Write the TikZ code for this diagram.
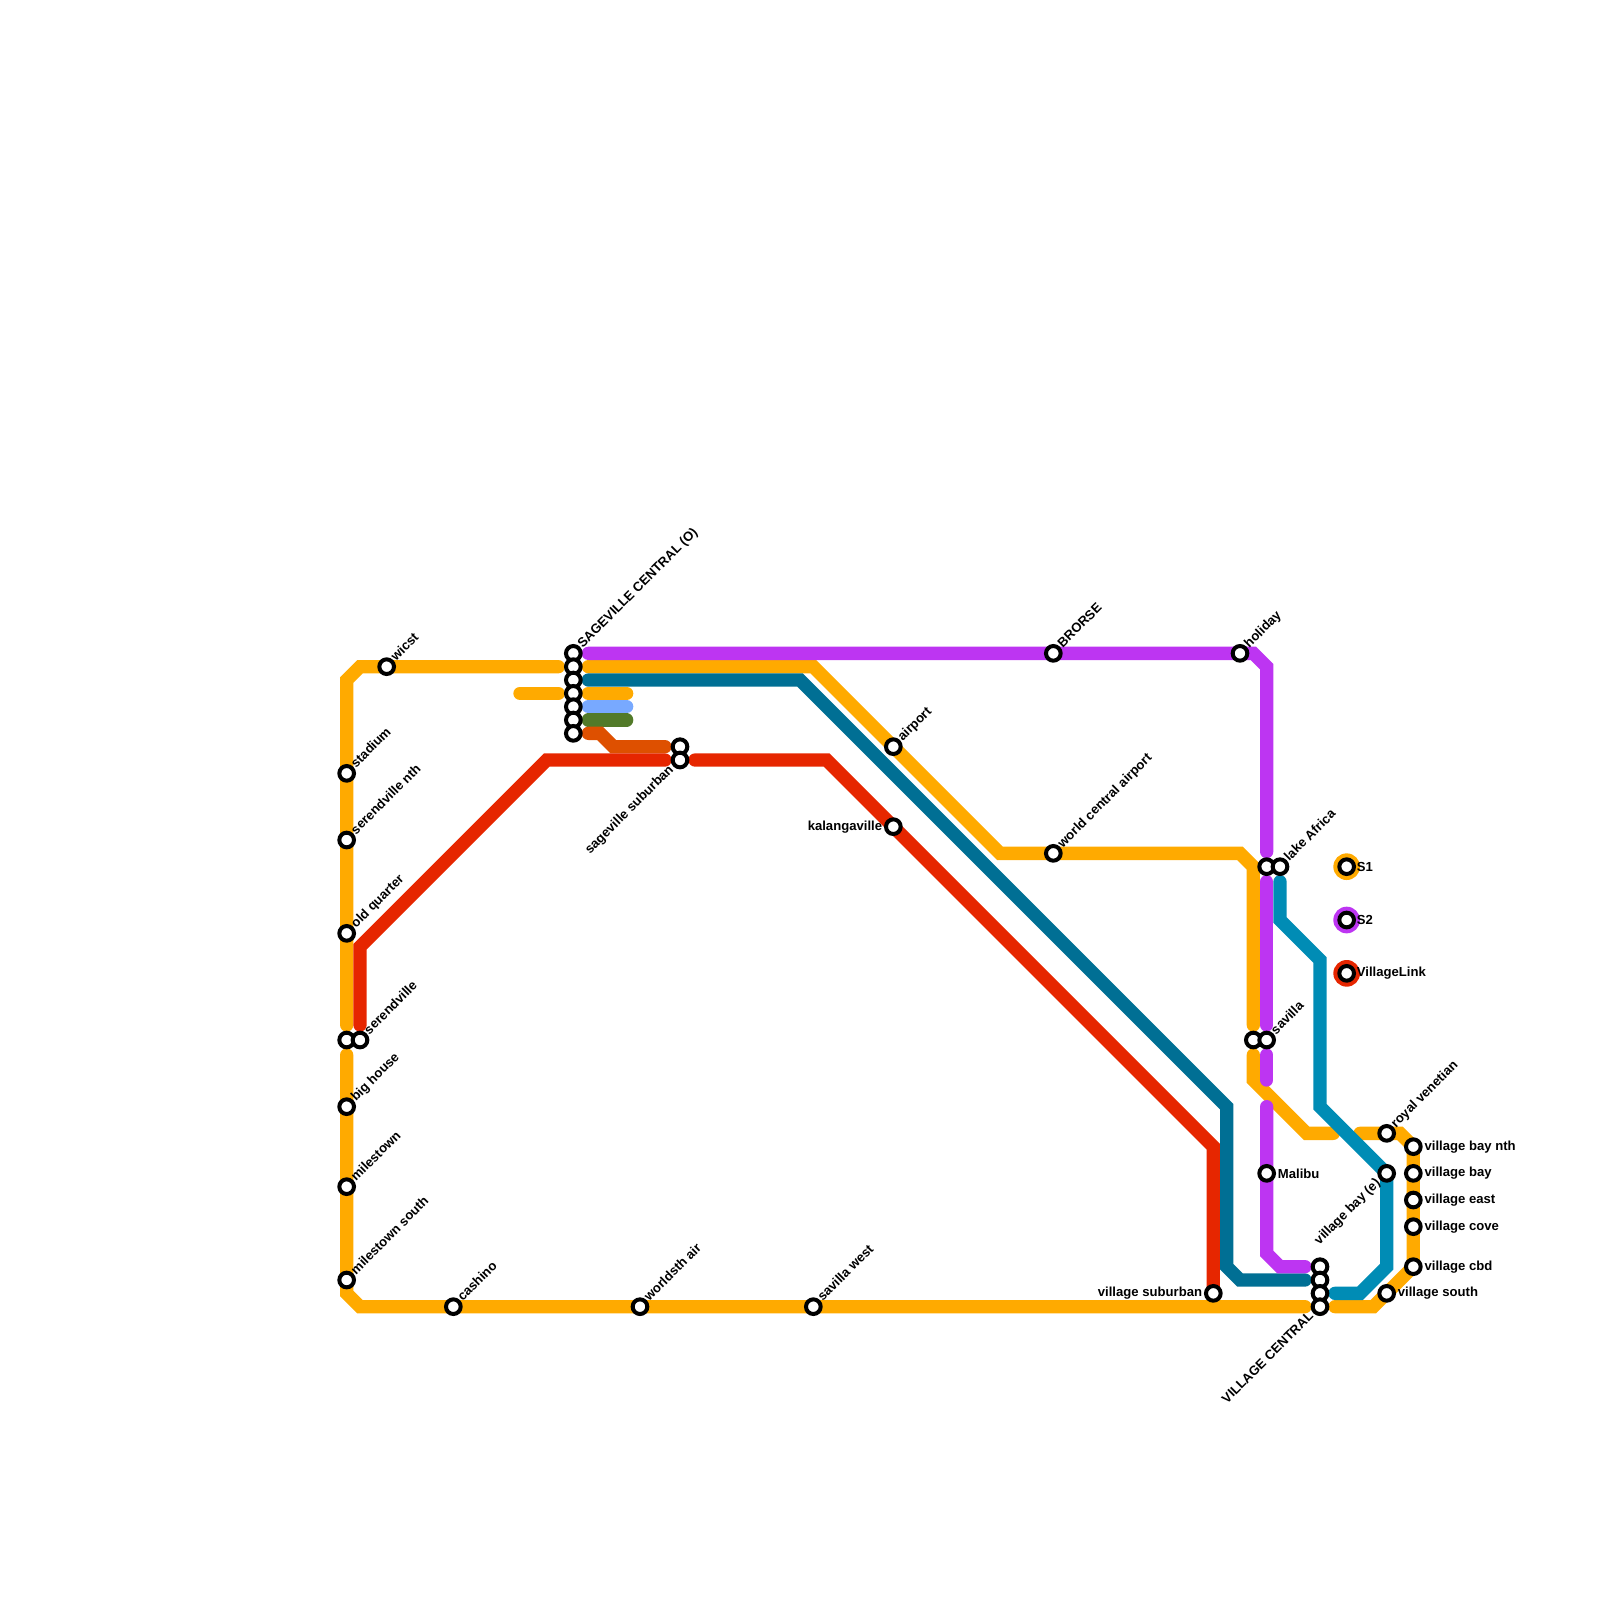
\documentclass[tikz,border=0pt]{standalone}
\usepackage{fontspec}
\setmainfont{Liberation Sans}
\usetikzlibrary{backgrounds}
\definecolor{villageorange}{RGB}{255,170,0}
\definecolor{villagepurple}{RGB}{189,53,242}
\definecolor{villagered}{RGB}{230,38,0}
\definecolor{villageteal}{RGB}{0,111,148}
\definecolor{villagecyan}{RGB}{0,140,181}
\definecolor{villagesky}{RGB}{120,169,255}
\definecolor{villagegreen}{RGB}{82,122,41}
\definecolor{villagerust}{RGB}{222,80,0}

\begin{document}
\begin{tikzpicture}[x=0.13333cm, y=-0.13333cm,
  route/.style={line width=3.79pt, line cap=round, line join=miter},
  station/.style={circle, draw=black, fill=white, line width=1.14pt, minimum size=4.17pt, inner sep=0pt},
  swatch/.style={circle, minimum size=7.59pt, inner sep=0pt, outer sep=0pt},
  tag/.style={inner sep=0pt, font=\fontsize{3.73}{4}\bfseries\selectfont, text=black},
  tagright/.style={tag, anchor=west, xshift=3pt},
  tagleft/.style={tag, anchor=east, xshift=-3pt},
  tagup/.style={tag, anchor=base west, rotate=45, xshift=2.7pt, yshift=-.9pt},
  tagdown/.style={tag, anchor=base east, rotate=45, xshift=-3.1pt, yshift=-.9pt}]
  \useasboundingbox (0,0) rectangle (120,120);
  % West side
  \node[station] (wicst) at (29,50) {};
  \node[station] (stadium) at (26,58) {};
  \node[station] (serendvillenth) at (26,63) {};
  \node[station] (oldquarter) at (26,70) {};
  \node[station] (serendvillea) at (26,78) {};
  \node[station] (serendvilleb) at (27,78) {};
  \node[station] (bighouse) at (26,83) {};
  \node[station] (milestown) at (26,89) {};
  \node[station] (milestownsouth) at (26,96) {};
  \node[tagup] (wicsttag) at (wicst) {wicst};
  \node[tagup] (stadiumtag) at (stadium) {stadium};
  \node[tagup] (serendvillenthtag) at (serendvillenth) {serendville nth};
  \node[tagup] (oldquartertag) at (oldquarter) {old quarter};
  \node[tagup] (serendvilletag) at (serendvilleb) {serendville};
  \node[tagup] (bighousetag) at (bighouse) {big house};
  \node[tagup] (milestowntag) at (milestown) {milestown};
  \node[tagup] (milestownsouthtag) at (milestownsouth) {milestown south};
  % Sageville stack
  \node[station] (sagea) at (43,49) {};
  \node[station] (sageb) at (43,50) {};
  \node[station] (sagec) at (43,51) {};
  \node[station] (saged) at (43,52) {};
  \node[station] (sagee) at (43,53) {};
  \node[station] (sagef) at (43,54) {};
  \node[station] (sageg) at (43,55) {};
  \node[station] (suburbana) at (51,56) {};
  \node[station] (suburbanb) at (51,57) {};
  \node[tagup] (sagetag) at (sagea) {SAGEVILLE CENTRAL (O)};
  \node[tagdown] (suburbantag) at (suburbanb) {sageville suburban};
  % South side
  \node[station] (cashino) at (34,98) {};
  \node[station] (worldsth) at (48,98) {};
  \node[station] (savillawest) at (61,98) {};
  \node[station] (villagesuburban) at (91,97) {};
  \node[tagup] (cashinotag) at (cashino) {cashino};
  \node[tagup] (worldsthtag) at (worldsth) {worldsth air};
  \node[tagup] (savillawesttag) at (savillawest) {savilla west};
  \node[tagleft] (villagesuburbantag) at (villagesuburban) {village suburban};
  % Middle
  \node[station] (airport) at (67,56) {};
  \node[station] (kalangaville) at (67,62) {};
  \node[station] (brorse) at (79,49) {};
  \node[station] (worldcentral) at (79,64) {};
  \node[station] (holiday) at (93,49) {};
  \node[tagup] (airporttag) at (airport) {airport};
  \node[tagleft] (kalangavilletag) at (kalangaville) {kalangaville};
  \node[tagup] (brorsetag) at (brorse) {BRORSE};
  \node[tagup] (worldcentraltag) at (worldcentral) {world central airport};
  \node[tagup] (holidaytag) at (holiday) {holiday};
  % East side
  \node[station] (lakea) at (95,65) {};
  \node[station] (lakeb) at (96,65) {};
  \node[station] (savillaa) at (94,78) {};
  \node[station] (savillab) at (95,78) {};
  \node[station] (malibu) at (95,88) {};
  \node[station] (centrala) at (99,95) {};
  \node[station] (centralb) at (99,96) {};
  \node[station] (centralc) at (99,97) {};
  \node[station] (centrald) at (99,98) {};
  \node[station] (royal) at (104,85) {};
  \node[station] (villagebaye) at (104,88) {};
  \node[station] (villagesouth) at (104,97) {};
  \node[station] (baynth) at (106,86) {};
  \node[station] (bay) at (106,88) {};
  \node[station] (east) at (106,90) {};
  \node[station] (cove) at (106,92) {};
  \node[station] (cbd) at (106,95) {};
  \node[tagup] (laketag) at (lakeb) {lake Africa};
  \node[tagup] (savillatag) at (savillab) {savilla};
  \node[tagright] (malibutag) at (malibu) {Malibu};
  \node[tagdown] (centraltag) at (centrald) {VILLAGE CENTRAL};
  \node[tagup] (royaltag) at (royal) {royal venetian};
  \node[tagdown] (villagebayetag) at (villagebaye) {village bay (e)};
  \node[tagright] (villagesouthtag) at (villagesouth) {village south};
  \node[tagright] (baynthtag) at (baynth) {village bay nth};
  \node[tagright] (baytag) at (bay) {village bay};
  \node[tagright] (easttag) at (east) {village east};
  \node[tagright] (covetag) at (cove) {village cove};
  \node[tagright] (cbdtag) at (cbd) {village cbd};
  % Legend
  \node[station] (sone) at (101,65) {};
  \node[station] (stwo) at (101,69) {};
  \node[station] (slink) at (101,73) {};
  \node[tagright, xshift=-.3pt] (sonetag) at (sone) {S1};
  \node[tagright, xshift=-.3pt] (stwotag) at (stwo) {S2};
  \node[tagright, xshift=-.3pt] (slinktag) at (slink) {VillageLink};
  % Ends and bends
  \coordinate (oa) at (26,76.875);
  \coordinate (ob) at (26,51);
  \coordinate (oc) at (27,50);
  \coordinate (od) at (41.875,50);
  \coordinate (oe) at (26,79.125);
  \coordinate (of) at (26,97);
  \coordinate (og) at (27,98);
  \coordinate (oh) at (97.875,98);
  \coordinate (oi) at (44.125,50);
  \coordinate (oj) at (61,50);
  \coordinate (ok) at (75,64);
  \coordinate (ol) at (93,64);
  \coordinate (om) at (94,65);
  \coordinate (on) at (94,76.875);
  \coordinate (oo) at (94,79.125);
  \coordinate (op) at (94,81);
  \coordinate (oq) at (98,85);
  \coordinate (or) at (100,85);
  \coordinate (os) at (102,85);
  \coordinate (ot) at (105,85);
  \coordinate (ou) at (103,98);
  \coordinate (ov) at (100.125,98);
  \coordinate (ow) at (39,52);
  \coordinate (ox) at (41.875,52);
  \coordinate (oy) at (44.125,52);
  \coordinate (oz) at (47,52);
  \coordinate (pa) at (44.125,49);
  \coordinate (pb) at (94,49);
  \coordinate (pc) at (95,50);
  \coordinate (pd) at (95,63.875);
  \coordinate (pe) at (95,66.125);
  \coordinate (pf) at (95,76.875);
  \coordinate (pg) at (95,79.125);
  \coordinate (ph) at (95,81);
  \coordinate (pi) at (95,83);
  \coordinate (pj) at (95,94);
  \coordinate (pk) at (96,95);
  \coordinate (pl) at (97.875,95);
  \coordinate (ra) at (27,76.875);
  \coordinate (rb) at (27,71);
  \coordinate (rc) at (41,57);
  \coordinate (rd) at (49.875,57);
  \coordinate (re) at (52.125,57);
  \coordinate (rf) at (62,57);
  \coordinate (rg) at (91,86);
  \coordinate (ta) at (44.125,51);
  \coordinate (tb) at (60,51);
  \coordinate (tc) at (92,83);
  \coordinate (td) at (92,95);
  \coordinate (te) at (93,96);
  \coordinate (tf) at (97.875,96);
  \coordinate (ca) at (96,66.125);
  \coordinate (cb) at (96,69);
  \coordinate (cc) at (99,72);
  \coordinate (cd) at (99,83);
  \coordinate (ce) at (104,95);
  \coordinate (cf) at (102,97);
  \coordinate (cg) at (100.125,97);
  \coordinate (sa) at (44.125,53);
  \coordinate (sb) at (47,53);
  \coordinate (ga) at (44.125,54);
  \coordinate (gb) at (47,54);
  \coordinate (da) at (44.125,55);
  \coordinate (db) at (45,55);
  \coordinate (dc) at (46,56);
  \coordinate (dd) at (49.875,56);
  \begin{scope}[on background layer]
    % Routes
    \draw[route, villageorange] (oa) -- (ob) -- (oc) -- (od);
    \draw[route, villageorange] (oe) -- (of) -- (og) -- (oh);
    \draw[route, villageorange] (oi) -- (oj) -- (ok) -- (ol) -- (om) -- (on);
    \draw[route, villageorange] (oo) -- (op) -- (oq) -- (or);
    \draw[route, villageorange] (os) -- (ot) -- (baynth.center) -- (cbd.center) -- (ou) -- (ov);
    \draw[route, villageorange] (ow) -- (ox);
    \draw[route, villageorange] (oy) -- (oz);
    \draw[route, villagesky] (sa) -- (sb);
    \draw[route, villagegreen] (ga) -- (gb);
    \draw[route, villagerust] (da) -- (db) -- (dc) -- (dd);
    \draw[route, villagered] (ra) -- (rb) -- (rc) -- (rd);
    \draw[route, villagered] (re) -- (rf) -- (rg) -- (villagesuburban.center);
    \draw[route, villageteal] (ta) -- (tb) -- (tc) -- (td) -- (te) -- (tf);
    \draw[route, villagecyan] (ca) -- (cb) -- (cc) -- (cd) -- (villagebaye.center) -- (ce) -- (cf) -- (cg);
    \draw[route, villagepurple] (pa) -- (pb) -- (pc) -- (pd);
    \draw[route, villagepurple] (pe) -- (pf);
    \draw[route, villagepurple] (pg) -- (ph);
    \draw[route, villagepurple] (pi) -- (pj) -- (pk) -- (pl);
    % Legend swatches
    \node[swatch, fill=villageorange] (soneswatch) at (sone) {};
    \node[swatch, fill=villagepurple] (stwoswatch) at (stwo) {};
    \node[swatch, fill=villagered] (slinkswatch) at (slink) {};
  \end{scope}
\end{tikzpicture}
\end{document}
